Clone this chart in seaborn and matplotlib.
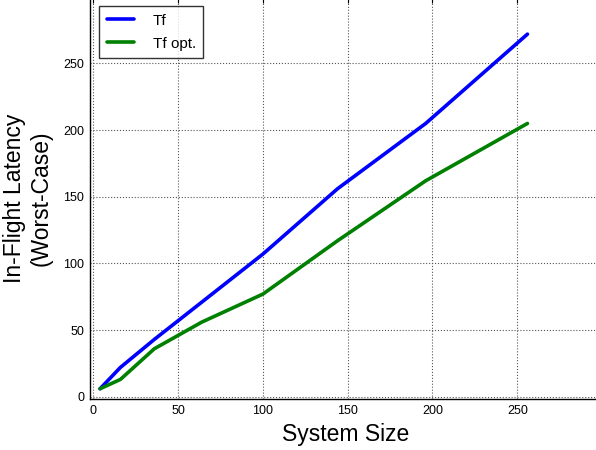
import matplotlib
matplotlib.use("Agg")
import matplotlib.pyplot as plt
import seaborn as sns
import pandas as pd

system_size = [4, 16, 36, 64, 100, 144, 196, 256]
tf = [6, 22, 43, 71, 107, 156, 205, 272]
tf_opt = [6, 13, 36, 56, 77, 117, 162, 205]
series_names = ["Tf", "Tf opt."]
tick_values = [0, 50, 100, 150, 200, 250]

df = pd.DataFrame({
    "System Size": system_size * 2,
    "Latency": tf + tf_opt,
    "Series": [series_names[0]] * len(system_size) + [series_names[1]] * len(system_size),
})

sns.set_theme(style="white")
plt.rcParams["font.family"] = ["Liberation Sans", "DejaVu Sans"]
plt.rcParams["text.color"] = "black"
plt.rcParams["axes.labelcolor"] = "black"

fig = plt.figure(figsize=(5.96, 4.5), dpi=100)
ax = fig.add_axes([0.1508, 0.1124, 0.8594, 0.8947])

sns.lineplot(data=df, x="System Size", y="Latency", hue="Series",
             palette={"Tf": "#0000ff", "Tf opt.": "#008000"},
             linewidth=2.6, ax=ax, legend=True)

ax.set_xlim(-2, 300)
ax.set_ylim(-2, 300)
ax.set_xticks(tick_values)
ax.set_yticks(tick_values)
ax.grid(True, linestyle=":", color="#555555", linewidth=0.8)
ax.tick_params(direction="in", length=4, width=0.8, labelsize=9, colors="black",
               top=True, right=True, pad=4)
for s in ax.spines.values():
    s.set_color("black")
    s.set_linewidth(1.0)

ax.set_xlabel("System Size", fontsize=16.5, labelpad=4, color="black")
ax.set_ylabel("In-Flight Latency\n(Worst-Case)", fontsize=16.5, labelpad=8, color="black")

leg = ax.legend(loc="upper left", fontsize=11, frameon=True, fancybox=False,
                handlelength=1.8, handletextpad=1.2, borderpad=0.5,
                labelspacing=0.6, borderaxespad=0.6)
leg.get_frame().set_edgecolor("black")
leg.get_frame().set_linewidth(1.0)
for t in leg.get_texts():
    t.set_color("black")
for line in leg.get_lines():
    line.set_linewidth(2.6)

fig.savefig("out.png", dpi=100)
